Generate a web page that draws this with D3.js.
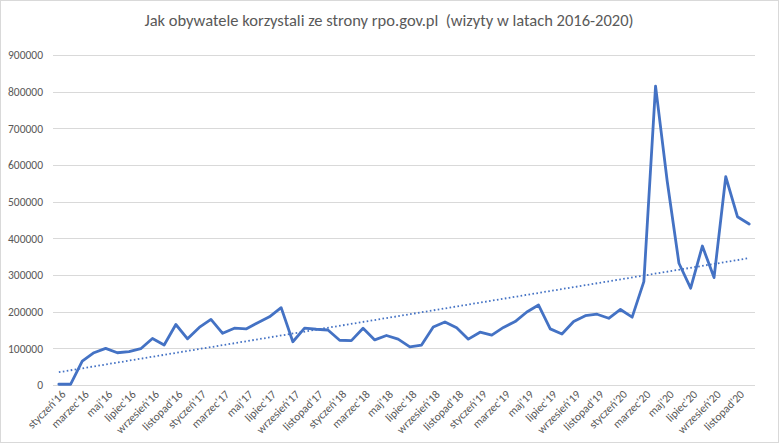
<!DOCTYPE html>
<html>
<head>
<meta charset="utf-8">
<script src="https://cdn.jsdelivr.net/npm/d3@7"></script>
<style>
  html, body { margin: 0; padding: 0; background: #fff; }
  svg { display: block; }
  text { font-family: Carlito, Calibri, Lato, "Open Sans", sans-serif; }
</style>
</head>
<body>
<svg id="chart" width="780" height="445"></svg>
<script>
const title = "Jak obywatele korzystali ze strony rpo.gov.pl  (wizyty w latach 2016-2020)";
const monthNames = ["styczeń","luty","marzec","kwiecień","maj","czerwiec","lipiec","sierpień","wrzesień","październik","listopad","grudzień"];
const years = ["16","17","18","19","20"];
const visits = [
  2000, 2000, 65000, 88000, 100000, 88000, 91000, 99000, 127000, 109000, 165000, 126000,
  157000, 179000, 141000, 155000, 153000, 170000, 186000, 211000, 118000, 155000, 152000, 150000,
  122000, 121000, 155000, 123000, 135000, 125000, 104000, 109000, 158000, 172000, 156000, 125000,
  144000, 136000, 157000, 173000, 199000, 218000, 153000, 139000, 173000, 189000, 193000, 182000,
  206000, 185000, 282000, 815000, 555000, 332000, 264000, 379000, 293000, 568000, 459000, 439000
];
const yTicks = [0,100000,200000,300000,400000,500000,600000,700000,800000,900000];

const categories = [];
years.forEach(y => monthNames.forEach(m => categories.push(m + "'" + y)));
const data = categories.map((c, i) => ({cat: c, v: visits[i], i}));

const svg = d3.select("#chart");
const W = 780, H = 445;

svg.append("rect").attr("x", 0.5).attr("y", 0.5).attr("width", W - 2).attr("height", H - 3)
  .attr("fill", "#fff").attr("stroke", "#d9d9d9").attr("stroke-width", 1);

const mLeft = 53, mRight = 755, mTop = 55, mBottom = 385;

const x = d3.scalePoint().domain(categories).range([mLeft, mRight]).padding(0.5);
const y = d3.scaleLinear().domain([0, 900000]).range([mBottom, mTop]);

// gridlines
svg.append("g").selectAll("line").data(yTicks).join("line")
  .attr("x1", mLeft).attr("x2", mRight)
  .attr("y1", d => Math.round(y(d)) + 0.5).attr("y2", d => Math.round(y(d)) + 0.5)
  .attr("stroke", "#d9d9d9").attr("stroke-width", 1);

// y axis labels
const yAxis = d3.axisLeft(y).tickValues(yTicks).tickSize(0).tickPadding(10).tickFormat(d3.format("d"));
const gy = svg.append("g").attr("transform", `translate(${mLeft},0)`).call(yAxis);
gy.select(".domain").remove();
gy.selectAll("text").attr("fill", "#595959").style("font-size", "11.5px")
  .style("font-family", "Carlito, Calibri, Lato, sans-serif");

// x axis labels
const xAxis = d3.axisBottom(x).tickValues(categories.filter((c, i) => i % 2 === 0)).tickSize(0).tickPadding(0);
const gx = svg.append("g").attr("transform", `translate(0,${mBottom})`).call(xAxis);
gx.select(".domain").remove();
gx.selectAll("text")
  .attr("fill", "#595959").style("font-size", "11.5px")
  .style("font-family", "Carlito, Calibri, Lato, sans-serif")
  .attr("text-anchor", "end")
  .attr("x", 0).attr("y", 0).attr("dy", "0")
  .attr("transform", "translate(7,10) rotate(-45)");

// trendline (linear regression)
const n = data.length;
const mx = d3.mean(data, d => d.i), my = d3.mean(data, d => d.v);
const slope = d3.sum(data, d => (d.i - mx) * (d.v - my)) / d3.sum(data, d => (d.i - mx) ** 2);
const intercept = my - slope * mx;
svg.append("line")
  .attr("x1", x(categories[0])).attr("y1", y(intercept))
  .attr("x2", x(categories[n - 1])).attr("y2", y(intercept + slope * (n - 1)))
  .attr("stroke", "#4472C4").attr("stroke-width", 1.8)
  .attr("stroke-dasharray", "1.6,2.4");

// main line
const line = d3.line().x(d => x(d.cat)).y(d => y(d.v));
svg.append("path").datum(data).attr("d", line)
  .attr("fill", "none").attr("stroke", "#4472C4").attr("stroke-width", 2.8)
  .attr("stroke-linejoin", "round").attr("stroke-linecap", "round");

// title
svg.append("text").attr("x", 389).attr("y", 26).attr("text-anchor", "middle")
  .attr("fill", "#595959").style("font-size", "16.5px").style("white-space", "pre")
  .text(title);
</script>
</body>
</html>
